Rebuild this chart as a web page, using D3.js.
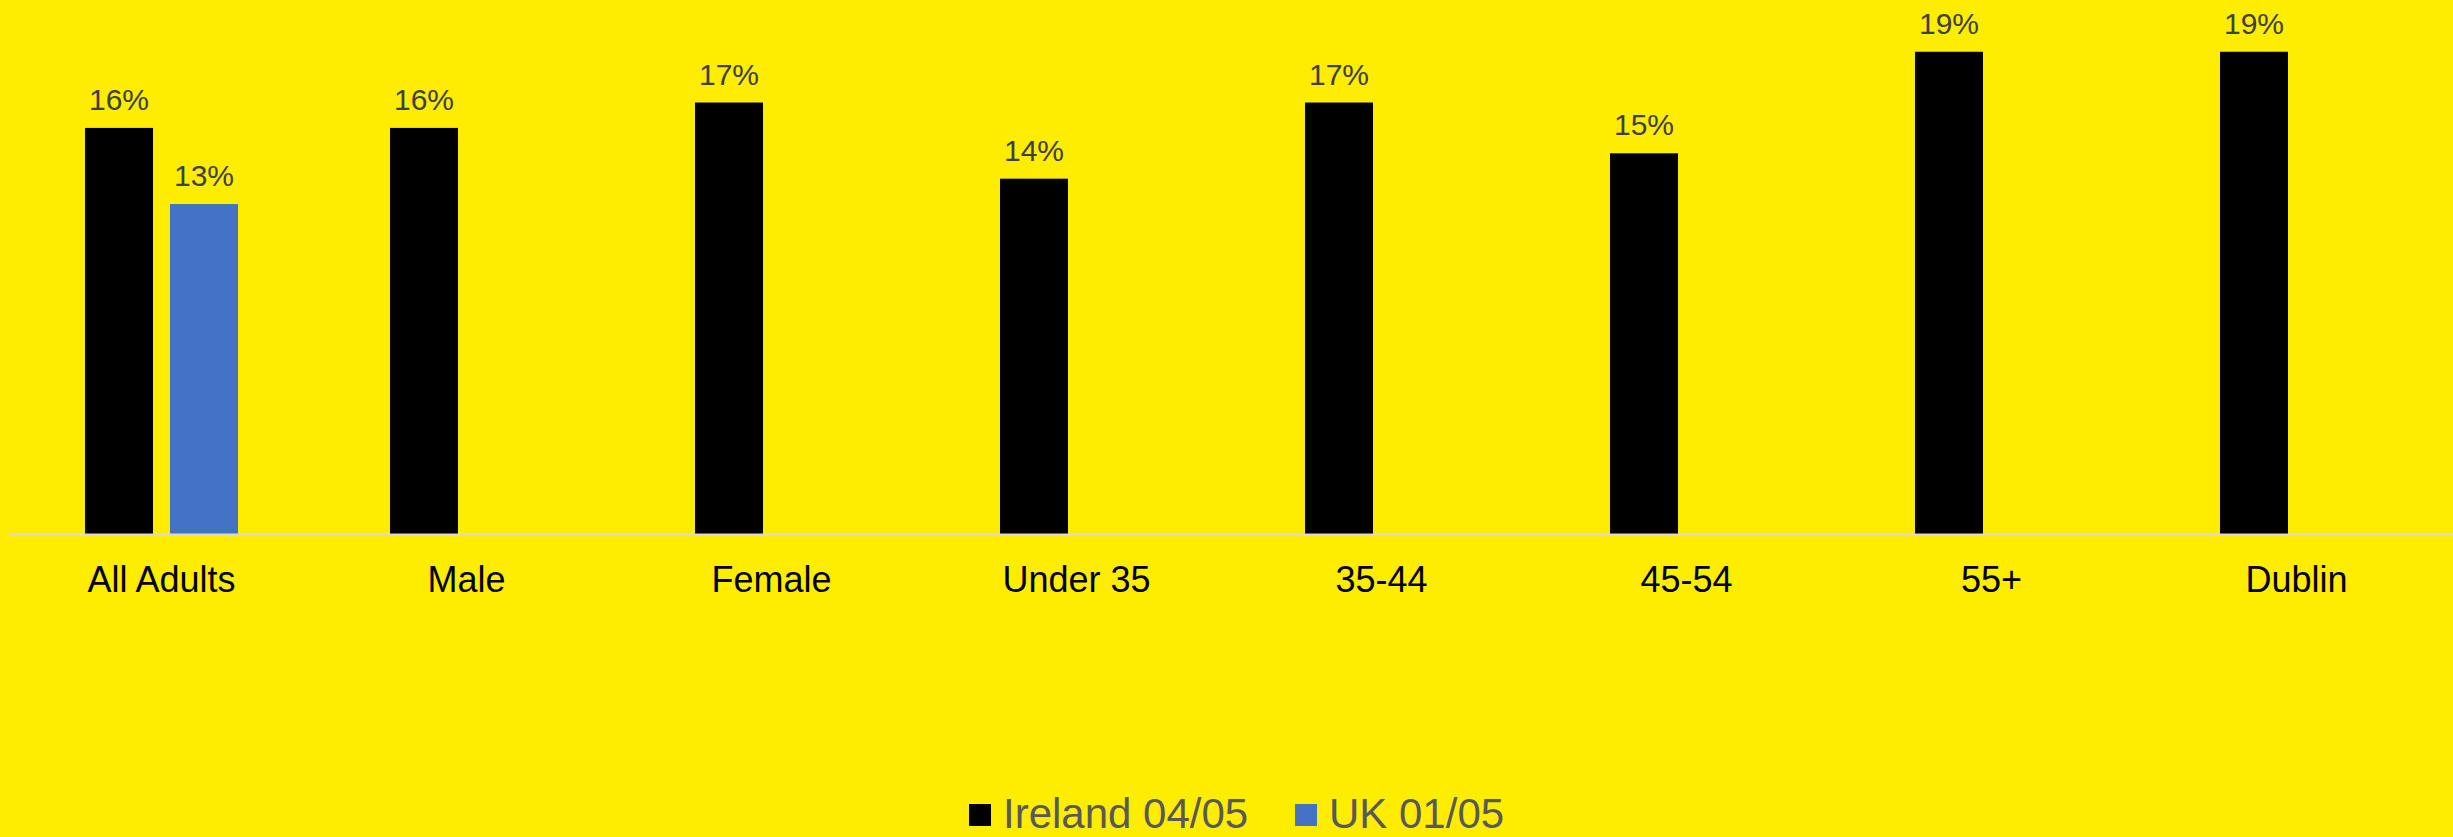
<!DOCTYPE html>
<html>
<head>
<meta charset="utf-8">
<script src="https://cdn.jsdelivr.net/npm/d3@7"></script>
<style>
    html, body { margin: 0; padding: 0; background: #FFED00; overflow: hidden; }
    svg { display: block; font-family: "Liberation Sans", Arial, sans-serif; }
</style>
</head>
<body>
<svg id="chart"></svg>
<script>

// Data
const categories = ["All Adults", "Male", "Female", "Under 35", "35-44", "45-54", "55+", "Dublin"];
const seriesNames = ["Ireland 04/05", "UK 01/05"];
const ireland = [16, 16, 17, 14, 17, 15, 19, 19];
const uk = [13, null, null, null, null, null, null, null];
const seriesColours = ["#000000", "#4472C4"];

const width = 2453, height = 837;
const margin = {left: 9, right: 4, top: 1, baseline: 534};

const svg = d3.select("#chart")
    .attr("width", width)
    .attr("height", height);

svg.append("rect")
    .attr("width", width)
    .attr("height", height)
    .attr("fill", "#FFED00");

// Scales
const x0 = d3.scaleBand()
    .domain(categories)
    .range([margin.left, width - margin.right])
    .paddingInner(0)
    .paddingOuter(0);
const x1 = d3.scaleBand()
    .domain(seriesNames)
    .range([0, x0.bandwidth()])
    .paddingInner(0.2)
    .paddingOuter(0.894);
const y = d3.scaleLinear()
    .domain([0, 21])
    .range([margin.baseline, margin.top]);

const series = [ireland, uk];
const records = [];
categories.forEach((c, i) => {
    series.forEach((s, j) => {
        if (s[i] !== null) records.push({cat: c, name: seriesNames[j], value: s[i], colour: seriesColours[j]});
    });
});

// Bars
svg.append("g")
    .selectAll("rect")
    .data(records)
    .join("rect")
    .attr("x", d => x0(d.cat) + x1(d.name))
    .attr("y", d => y(d.value))
    .attr("width", x1.bandwidth())
    .attr("height", d => y(0) - y(d.value))
    .attr("fill", d => d.colour);

// Value labels
svg.append("g")
    .selectAll("text")
    .data(records)
    .join("text")
    .attr("x", d => x0(d.cat) + x1(d.name) + x1.bandwidth()/2)
    .attr("y", d => y(d.value) - 18)
    .attr("text-anchor", "middle")
    .attr("font-size", 30)
    .attr("fill", "#404040")
    .text(d => d.value + "%");

// Category axis
const axis = svg.append("g")
    .attr("transform", `translate(0, ${margin.baseline + 0.5})`)
    .call(d3.axisBottom(x0).tickSize(0).tickSizeOuter(0).tickPadding(31.5));
axis.select(".domain")
    .attr("stroke", "#D9D9D9")
    .attr("stroke-width", 2)
    .attr("d", `M${margin.left},0H${width}`);
axis.selectAll(".tick text")
    .attr("font-size", 36)
    .attr("font-family", "'Liberation Sans', Arial, sans-serif")
    .attr("fill", "#000000");

// Legend
const legendItems = [
    {name: seriesNames[0], colour: seriesColours[0], x: 969},
    {name: seriesNames[1], colour: seriesColours[1], x: 1295}
];
const legend = svg.append("g");
const item = legend.selectAll("g")
    .data(legendItems)
    .join("g")
    .attr("transform", d => `translate(${d.x}, 804)`);
item.append("rect")
    .attr("width", 22)
    .attr("height", 22)
    .attr("fill", d => d.colour);
item.append("text")
    .attr("x", 34)
    .attr("y", 24)
    .attr("font-size", 42)
    .attr("fill", "#595959")
    .text(d => d.name);

</script>
</body>
</html>
